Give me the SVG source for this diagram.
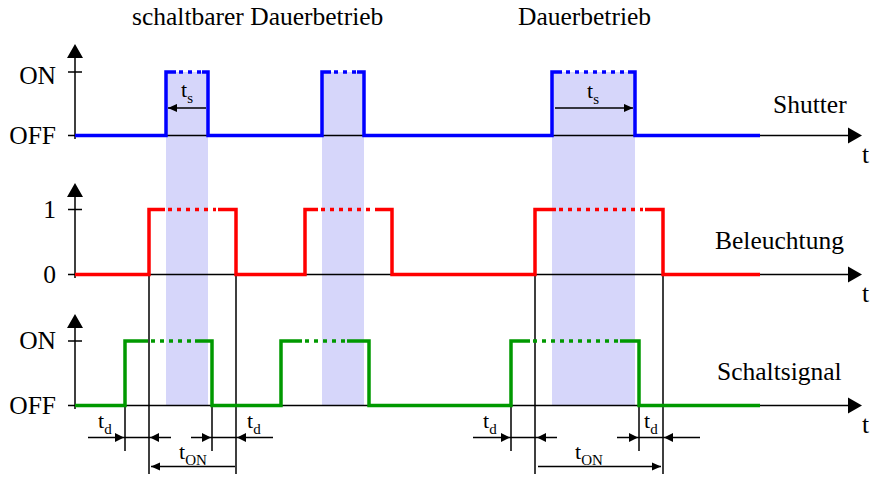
<svg xmlns="http://www.w3.org/2000/svg" width="873" height="478" viewBox="0 0 873 478">
<style>
text{font-family:"Liberation Serif","Times New Roman",serif;fill:#000}
.lbl{font-size:25.5px}
.ax{stroke:#000;stroke-width:1.5;fill:none}
.thin{stroke:#000;stroke-width:1.5;fill:none}
.sig{fill:none;stroke-width:3.5;stroke-linejoin:miter;stroke-linecap:butt}
.dot{fill:none;stroke-width:3.5;stroke-dasharray:4 5}
.blue{stroke:#0000ff}.red{stroke:#ff0000}.green{stroke:#009900}
.shade{fill:#d6d6fa}
.ah{fill:#000}
.sub{font-size:15px}
.tl{font-size:22px}
</style>
<defs>
<marker id="arr" viewBox="0 0 10 10" refX="10" refY="5" markerWidth="9" markerHeight="9" markerUnits="userSpaceOnUse" orient="auto-start-reverse"><path d="M0,0.5 L10,5 L0,9.5 Z" fill="#000"/></marker>
</defs>
<g id="shades">
<rect class="shade" x="166" y="72" width="42" height="333"/>
<rect class="shade" x="322" y="72" width="42" height="333"/>
<rect class="shade" x="552" y="72" width="83" height="333"/>
</g>
<g id="axes">
<path class="ax" d="M75,139 V56 M68,72 H82 M68,135.5 H75 M75,135.5 H850"/>
<path class="ah" d="M75,44 L67,58 L83,58 Z M862,135.5 L848,127.5 L848,143.5 Z"/>
<path class="ax" d="M75,278 V195 M68,209.5 H82 M68,274.5 H75 M75,274.5 H850"/>
<path class="ah" d="M75,183 L67,197 L83,197 Z M862,274.5 L848,266.5 L848,282.5 Z"/>
<path class="ax" d="M75,409 V326 M68,341 H82 M68,405.5 H75 M75,405.5 H850"/>
<path class="ah" d="M75,314 L67,328 L83,328 Z M862,405.5 L848,397.5 L848,413.5 Z"/>
<text class="lbl" x="56" y="84" text-anchor="end">ON</text>
<text class="lbl" x="56" y="144" text-anchor="end">OFF</text>
<text class="lbl" x="56" y="218" text-anchor="end">1</text>
<text class="lbl" x="56" y="283" text-anchor="end">0</text>
<text class="lbl" x="56" y="349" text-anchor="end">ON</text>
<text class="lbl" x="56" y="414" text-anchor="end">OFF</text>
<text class="lbl" x="862" y="163">t</text>
<text class="lbl" x="862" y="302">t</text>
<text class="lbl" x="862" y="433">t</text>
</g>
<g id="connectors">
<path class="thin" d="M149,274 V474 M236,274 V474 M535,274 V474 M663,274 V474"/>
<path class="thin" d="M125,405 V451 M212,405 V451 M511,405 V451 M639,405 V451"/>
<path class="thin" d="M88,437.5 H171 M191,437.5 H273 M473,437.5 H557 M617,437.5 H700"/>
<path class="ah" d="M124,437.5 L115,433 L115,442 Z M150,437.5 L159,433 L159,442 Z M211,437.5 L202,433 L202,442 Z M237,437.5 L246,433 L246,442 Z M510,437.5 L501,433 L501,442 Z M537,437.5 L546,433 L546,442 Z M638,437.5 L629,433 L629,442 Z M664,437.5 L673,433 L673,442 Z"/>
<path class="thin" d="M151,466.5 H235 M538,466.5 H661" marker-start="url(#arr)" marker-end="url(#arr)"/>
<path class="thin" d="M168,108 H206 M555,108 H633" marker-start="url(#arr)" marker-end="url(#arr)"/>
</g>
<g id="shutter">
<path class="sig blue" d="M75,135.5 H166 V72 H176 M202,72 H208 V135.5 H322 V72 H331 M357,72 H364 V135.5 H552 V72 H562 M628,72 H635 V135.5 H760"/>
<path class="dot blue" d="M179,72 H201 M334,72 H356 M566,72 H627"/>
<text class="tl" x="181" y="97">t<tspan class="sub" dy="6">s</tspan></text>
<text class="tl" x="587" y="98">t<tspan class="sub" dy="6">s</tspan></text>
<text class="lbl" x="773" y="113">Shutter</text>
</g>
<g id="beleuchtung">
<path class="sig red" d="M75,274.5 H149 V209.5 H165 M218,209.5 H236 V274.5 H305 V209.5 H318 M375,209.5 H392 V274.5 H535 V209.5 H556 M645,209.5 H663 V274.5 H760"/>
<path class="dot red" d="M168,209.5 H216 M321,209.5 H373 M559,209.5 H643"/>
<text class="lbl" x="715" y="249">Beleuchtung</text>
</g>
<g id="schaltsignal">
<path class="sig green" d="M75,405.5 H125 V341 H148 M195,341 H212 V405.5 H281 V341 H302 M347,341 H369 V405.5 H511 V341 H530 M620,341 H639 V405.5 H760"/>
<path class="dot green" d="M151,341 H193 M305,341 H345 M533,341 H618"/>
<text class="lbl" x="717" y="380">Schaltsignal</text>
</g>
<g id="timing-labels">
<text class="tl" x="98" y="428">t<tspan class="sub" dy="6">d</tspan></text>
<text class="tl" x="247" y="428">t<tspan class="sub" dy="6">d</tspan></text>
<text class="tl" x="483" y="428">t<tspan class="sub" dy="6">d</tspan></text>
<text class="tl" x="644" y="428">t<tspan class="sub" dy="6">d</tspan></text>
<text class="tl" x="179" y="459">t<tspan class="sub" dy="6">ON</tspan></text>
<text class="tl" x="575" y="459">t<tspan class="sub" dy="6">ON</tspan></text>
</g>
<g id="titles">
<text class="lbl" x="132" y="25">schaltbarer Dauerbetrieb</text>
<text class="lbl" x="518" y="25">Dauerbetrieb</text>
</g>
</svg>
